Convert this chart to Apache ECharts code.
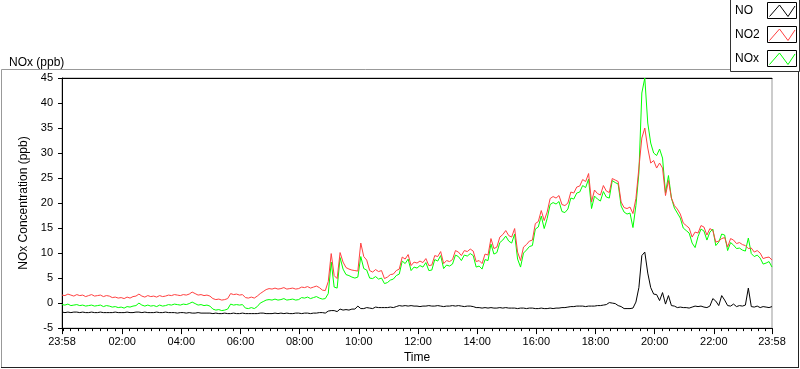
<!DOCTYPE html>
<html>
<head>
<meta charset="utf-8">
<script src="https://cdn.jsdelivr.net/npm/echarts@6/dist/echarts.min.js"></script>
<style>
html,body{margin:0;padding:0;background:#fff;}
#chart{width:800px;height:369px;}
</style>
</head>
<body>
<div id="chart"></div>
<script>
// Sample step: every 6 minutes, starting 23:58 (minute 0) through 23:58 next day (minute 1440)
const STEP_MIN = 6;
const seriesNames = ['NO', 'NO2', 'NOx'];
const seriesColors = ['#000000', '#ff4040', '#00ff00'];

const no2 = [
 1.6,1.5,1.8,1.6,1.4,1.7,1.5,1.6,1.3,1.5,
 1.7,1.4,1.5,1.6,1.3,1.5,1.4,1.1,1.2,1.0,
 1.1,0.9,1.2,1.0,1.3,1.4,1.8,1.4,1.2,1.5,
 1.3,1.4,1.2,1.5,1.3,1.4,1.6,1.5,1.7,1.6,
 1.5,1.7,1.6,1.8,2.2,1.9,1.6,1.7,1.5,1.6,
 1.4,0.9,0.7,0.8,0.6,0.7,0.9,1.9,1.7,1.8,
 1.6,1.7,1.1,1.0,1.2,1.0,1.4,1.9,2.3,2.7,
 2.9,2.8,3.0,2.8,2.9,3.1,2.8,2.9,3.0,2.8,
 2.9,3.2,3.1,3.3,3.0,3.2,3.4,3.1,2.6,2.5,
 4.3,9.9,5.5,4.9,10.1,8.2,7.1,6.8,6.6,6.5,
 6.4,12.0,9.3,8.6,6.5,6.2,6.7,6.3,6.5,4.9,
 5.2,5.7,5.8,6.5,6.8,9.2,8.8,9.7,7.5,8.2,
 8.0,8.4,8.1,8.9,7.5,7.6,9.5,9.3,10.3,7.9,
 8.5,8.3,8.7,10.5,10.2,9.5,10.5,10.3,10.8,10.4,
 8.3,8.5,7.9,9.8,9.6,12.9,10.9,11.2,13.2,13.7,
 14.5,13.5,13.2,14.9,10.2,8.5,11.2,11.7,12.4,12.6,
 15.9,16.3,18.5,16.5,18.2,20.9,21.3,21.0,21.5,19.7,
 19.5,20.0,22.2,22.0,23.2,23.4,24.7,24.3,25.9,20.2,
 22.6,21.9,21.6,23.5,22.4,22.1,24.9,24.6,24.3,20.2,
 19.1,18.9,19.2,17.9,20.9,27.0,33.0,35.0,31.0,28.0,
 28.5,27.0,28.0,27.0,21.5,24.5,21.0,19.5,18.8,17.8,
 16.0,15.5,15.0,13.2,14.2,14.0,15.5,15.2,13.6,14.9,
 14.5,12.2,12.4,12.9,13.1,11.2,12.9,12.6,11.9,12.1,
 11.7,11.5,10.9,11.0,10.2,10.5,10.0,8.9,9.1,9.2,8.6
];

const nox = [
 -0.3,-0.4,-0.2,-0.5,-0.4,-0.3,-0.5,-0.4,-0.6,-0.5,
 -0.4,-0.6,-0.5,-0.4,-0.7,-0.5,-0.6,-0.8,-0.7,-0.9,
 -0.8,-1.0,-0.7,-0.8,-0.6,-0.5,0.0,-0.4,-0.6,-0.4,
 -0.6,-0.5,-0.7,-0.4,-0.6,-0.5,-0.3,-0.4,-0.2,-0.3,
 -0.4,-0.2,-0.3,-0.1,0.2,-0.1,-0.4,-0.3,-0.5,-0.4,
 -0.6,-1.2,-1.4,-1.3,-1.5,-1.4,-1.2,-0.2,-0.4,-0.3,
 -0.4,-0.3,-1.0,-1.1,-0.9,-1.1,-0.7,0.0,0.3,0.6,
 0.7,0.6,0.8,0.6,0.7,0.9,0.6,0.7,0.8,0.6,
 0.7,1.1,1.0,1.2,0.9,1.1,1.3,1.0,0.8,0.9,
 1.9,8.2,3.2,3.0,9.1,6.8,5.7,5.5,5.2,5.0,
 5.2,9.3,6.9,6.6,5.0,4.9,5.3,4.8,5.0,3.9,
 4.1,4.6,4.8,5.5,5.8,8.4,7.9,8.8,6.5,7.2,
 7.0,7.5,7.2,8.1,6.5,6.6,8.7,8.4,9.5,6.9,
 7.6,7.4,7.8,9.6,9.3,8.5,9.6,9.4,9.9,9.5,
 7.2,7.4,6.8,8.7,8.5,11.8,9.8,10.1,12.1,12.6,
 13.4,12.4,12.0,13.8,8.8,7.2,10.0,10.6,11.3,11.5,
 14.8,15.2,17.4,14.9,16.9,19.7,20.1,19.8,20.3,18.3,
 18.1,18.8,21.0,20.8,22.0,22.2,23.5,23.1,24.8,18.9,
 21.4,20.8,20.4,22.3,21.2,21.0,24.5,24.1,23.8,19.4,
 18.2,17.8,18.0,15.1,19.5,26.0,42.0,45.0,36.0,32.0,
 30.0,29.5,30.8,29.0,22.0,25.5,21.0,19.0,18.0,17.0,
 15.0,14.5,14.0,12.0,11.1,13.3,14.8,14.4,12.6,14.2,
 14.8,11.5,12.2,13.8,13.6,10.5,12.1,11.6,10.9,11.0,
 10.6,10.4,13.0,9.9,9.3,9.6,9.0,7.8,8.0,8.3,7.2
];

const no = [
 -1.8,-1.9,-1.8,-1.9,-1.8,-1.8,-1.9,-1.8,-1.9,-1.9,
 -1.8,-1.9,-1.9,-1.8,-1.9,-1.9,-1.9,-1.9,-1.8,-1.9,
 -1.9,-1.9,-1.8,-1.9,-1.9,-1.8,-1.8,-1.9,-1.8,-1.9,
 -1.9,-1.9,-1.8,-1.9,-1.9,-1.8,-1.9,-1.9,-1.9,-2.0,
 -1.9,-1.9,-2.0,-1.9,-2.0,-2.0,-1.9,-2.0,-2.0,-2.0,
 -2.0,-2.1,-2.0,-2.1,-2.1,-2.0,-2.1,-2.1,-2.0,-2.1,
 -2.1,-2.0,-2.1,-2.1,-2.1,-2.1,-2.1,-2.0,-2.0,-2.1,
 -2.1,-2.1,-2.0,-2.1,-2.0,-2.1,-2.0,-2.1,-2.1,-2.0,
 -2.0,-2.1,-2.0,-2.0,-2.1,-2.0,-2.0,-1.9,-1.9,-2.0,
 -1.6,-1.5,-1.5,-1.7,-1.2,-1.4,-1.3,-1.4,-1.2,-1.2,
 -0.6,-1.1,-1.1,-0.9,-1.0,-1.1,-0.8,-0.9,-0.9,-0.9,
 -0.9,-0.8,-0.9,-0.7,-0.5,-0.6,-0.5,-0.6,-0.5,-0.6,
 -0.6,-0.7,-0.6,-0.6,-0.5,-0.6,-0.6,-0.5,-0.6,-0.7,
 -0.6,-0.6,-0.5,-0.6,-0.5,-0.6,-0.7,-0.6,-0.6,-0.7,
 -0.9,-0.9,-1.0,-0.9,-1.0,-0.9,-1.0,-1.0,-0.9,-1.0,
 -0.9,-1.0,-1.0,-1.0,-1.1,-1.0,-1.0,-1.1,-1.0,-1.0,
 -1.1,-1.1,-1.0,-1.1,-1.1,-1.0,-1.1,-1.0,-1.0,-0.9,
 -0.9,-0.8,-0.7,-0.7,-0.6,-0.6,-0.6,-0.7,-0.6,-0.6,
 -0.6,-0.5,-0.5,-0.4,-0.3,0.1,0.0,-0.1,-0.5,-0.7,
 -1.1,-1.1,-1.1,-1.0,0.2,3.1,9.5,10.2,6.0,3.1,
 1.8,1.7,0.5,2.1,-0.2,1.5,-0.5,-0.6,-0.9,-0.8,
 -0.9,-0.9,-1.0,-0.8,-0.6,-0.7,-0.6,-0.8,-0.9,-0.6,
 0.9,0.4,-0.5,1.5,0.6,-0.5,-0.6,-0.2,-0.7,-0.5,
 -0.6,-0.4,3.0,-0.7,-0.8,-0.6,-0.9,-0.7,-0.8,-0.9,-0.7
];

// x tick positions (minutes after 23:58) and their labels
const majorTicks = [0,122,242,362,482,602,722,842,962,1082,1202,1322,1440];
const tickLabels = ['23:58','02:00','04:00','06:00','08:00','10:00','12:00','14:00','16:00','18:00','20:00','22:00','23:58'];

const minorTicks = [];
for (let m = 2; m <= 1440; m += 15) minorTicks.push(m);

const times = no.map((_, i) => i * STEP_MIN);
const pairs = arr => arr.map((v, i) => [times[i], v]);

const FONT = 'Liberation Sans, Arial, sans-serif';
const chart = echarts.init(document.getElementById('chart'), null, {renderer: 'canvas'});

const labelMap = {};
majorTicks.forEach((m, i) => { labelMap[m] = tickLabels[i]; });

// legend drawn as graphic elements (box, text, zigzag sample)
const legendGraphics = [
  {type: 'rect', shape: {x: 730.5, y: -1, width: 69, height: 72.5}, style: {fill: '#fff', stroke: '#333', lineWidth: 1}, z: 10}
];
seriesNames.forEach((name, k) => {
  const top = 2.5 + k * 24;
  legendGraphics.push({type: 'text', x: 735, y: top + 8.5, z: 11,
    style: {text: name, fill: '#000', font: '12px ' + FONT, textVerticalAlign: 'middle', textAlign: 'left'}});
  legendGraphics.push({type: 'rect', shape: {x: 767.5, y: top, width: 29, height: 16}, z: 11,
    style: {fill: '#fff', stroke: '#000', lineWidth: 1}});
  legendGraphics.push({type: 'polyline', z: 12,
    shape: {points: [[769.5, top + 14], [779.5, top + 2.5], [788, top + 14], [795, top + 3.5]]},
    style: {stroke: seriesColors[k], lineWidth: 1, fill: null}});
});

chart.setOption({
  animation: false,
  backgroundColor: '#fff',
  title: {
    text: 'NOx (ppb)', left: 4, top: 52,
    textStyle: {fontFamily: FONT, fontSize: 12, fontWeight: 'normal', color: '#000'}
  },
  grid: {left: 62, top: 78, width: 710, height: 252, show: true, borderColor: '#999', borderWidth: 1, backgroundColor: '#fff'},
  xAxis: [
    {
      type: 'value', min: 0, max: 1440, position: 'bottom',
      name: 'Time', nameLocation: 'middle', nameGap: 23,
      nameTextStyle: {fontFamily: FONT, fontSize: 12, color: '#000'},
      axisLine: {show: true, onZero: false, lineStyle: {color: '#000', width: 1}},
      axisTick: {show: true, length: 6, customValues: majorTicks, lineStyle: {color: '#000'}},
      axisLabel: {
        show: true, margin: 8, customValues: majorTicks,
        fontFamily: FONT, fontSize: 11, color: '#000',
        formatter: v => labelMap[v] !== undefined ? labelMap[v] : ''
      },
      splitLine: {show: false}
    },
    {
      type: 'value', min: 0, max: 1440, position: 'bottom',
      axisLine: {show: false, onZero: false},
      axisTick: {show: true, length: 3, customValues: minorTicks, lineStyle: {color: '#000'}},
      axisLabel: {show: false},
      splitLine: {show: false}
    },
    {
      type: 'value', min: 0, max: 1440, position: 'top',
      axisLine: {show: true, onZero: false, lineStyle: {color: '#000', width: 1}},
      axisTick: {show: false}, axisLabel: {show: false}, splitLine: {show: false}
    }
  ],
  yAxis: {
    type: 'value', min: -5, max: 45, interval: 5,
    name: 'NOx Concentration (ppb)', nameLocation: 'middle', nameGap: 29,
    nameTextStyle: {fontFamily: FONT, fontSize: 12, color: '#000'},
    axisLine: {show: true, onZero: false, lineStyle: {color: '#000', width: 1}},
    axisTick: {show: true, length: 4, lineStyle: {color: '#000'}},
    axisLabel: {show: true, margin: 9, fontFamily: FONT, fontSize: 11, color: '#000'},
    splitLine: {show: false}
  },
  series: [
    {name: 'NOx', type: 'line', data: pairs(nox), showSymbol: false, symbol: 'none',
     lineStyle: {color: seriesColors[2], width: 1}, itemStyle: {color: seriesColors[2]}, z: 2},
    {name: 'NO2', type: 'line', data: pairs(no2), showSymbol: false, symbol: 'none',
     lineStyle: {color: seriesColors[1], width: 1}, itemStyle: {color: seriesColors[1]}, z: 3},
    {name: 'NO', type: 'line', data: pairs(no), showSymbol: false, symbol: 'none',
     lineStyle: {color: seriesColors[0], width: 1}, itemStyle: {color: seriesColors[0]}, z: 4}
  ],
  graphic: [
    {type: 'line', shape: {x1: 1.5, y1: 69.5, x2: 730, y2: 69.5}, style: {stroke: '#999', lineWidth: 1}, z: 0},
    {type: 'line', shape: {x1: 1.5, y1: 69.5, x2: 1.5, y2: 367.5}, style: {stroke: '#999', lineWidth: 1}, z: 0},
    {type: 'line', shape: {x1: 1, y1: 367.5, x2: 799, y2: 367.5}, style: {stroke: '#222', lineWidth: 1}, z: 0},
    {type: 'line', shape: {x1: 798.5, y1: 72, x2: 798.5, y2: 368}, style: {stroke: '#222', lineWidth: 1}, z: 0}
  ].concat(legendGraphics)
});
</script>
</body>
</html>
